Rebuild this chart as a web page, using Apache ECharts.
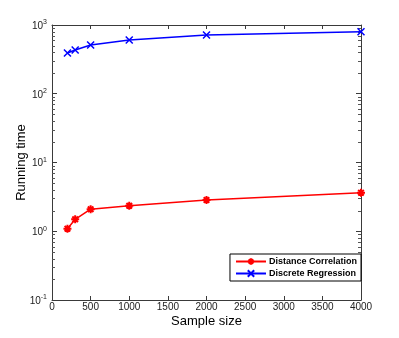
<!DOCTYPE html>
<html>
<head>
<meta charset="utf-8">
<script src="https://cdn.jsdelivr.net/npm/echarts@6/dist/echarts.min.js"></script>
<style>
  html, body { margin: 0; padding: 0; background: #fff; }
  #main { width: 399px; height: 338px; }
</style>
</head>
<body>
<div id="main"></div>
<script>
// 运行时间 vs 样本量
const sampleSizes = [200, 300, 500, 1000, 2000, 4000]
const distCorr = [1.09, 1.49, 2.09, 2.35, 2.85, 3.64]
const discReg = [392, 433, 512, 605, 716, 800]
const yMinor = [0.2, 0.3, 0.4, 0.5, 0.6, 0.7, 0.8, 0.9, 2, 3, 4, 5, 6, 7, 8, 9,
  20, 30, 40, 50, 60, 70, 80, 90, 200, 300, 400, 500, 600, 700, 800, 900]

const font = 'Liberation Sans, Arial, sans-serif'
const axisColor = '#3a3a3a'

const myChart = echarts.init(document.getElementById('main'))

const yLabel = {
  color: '#222',
  fontFamily: font,
  margin: 5,
  formatter: function (v) {
    const e = Math.round(Math.log10(v))
    return '{b|10}{s|' + e + '}'
  },
  rich: {
    b: { fontSize: 10, fontFamily: font, color: '#222', lineHeight: 12, verticalAlign: 'bottom' },
    s: { fontSize: 7, fontFamily: font, color: '#222', verticalAlign: 'top', lineHeight: 12, padding: [0, 0, 5, 0] }
  }
}

const option = {
  animation: false,
  backgroundColor: '#fff',
  grid: { left: 52, right: 38, top: 25, bottom: 38 },
  legend: {
    data: ['Distance Correlation', 'Discrete Regression'],
    orient: 'vertical',
    right: 38,
    bottom: 57,
    z: 10,
    backgroundColor: '#fff',
    borderColor: '#000',
    borderWidth: 1,
    borderRadius: 0,
    padding: [3, 4, 3, 5],
    itemGap: 3,
    itemWidth: 30,
    itemHeight: 8,
    textStyle: { fontSize: 9, fontWeight: 'bold', fontFamily: font, color: '#000', padding: [0, 0, 0, -2] }
  },
  xAxis: [{
    type: 'value',
    min: 0,
    max: 4000,
    interval: 500,
    name: 'Sample size',
    nameLocation: 'middle',
    nameGap: 15,
    nameMoveOverlap: false,
    nameTextStyle: { fontSize: 13, fontFamily: font, color: '#000' },
    axisLine: { onZero: false, lineStyle: { color: axisColor, width: 1 } },
    axisTick: { inside: true, length: 4, lineStyle: { color: axisColor } },
    axisLabel: { fontSize: 10, fontFamily: font, color: '#222', margin: 2, formatter: v => String(v) },
    splitLine: { show: false }
  }, {
    type: 'value',
    position: 'top',
    min: 0,
    max: 4000,
    interval: 500,
    axisLine: { onZero: false, lineStyle: { color: axisColor, width: 1 } },
    axisTick: { inside: true, length: 4, lineStyle: { color: axisColor } },
    axisLabel: { show: false },
    splitLine: { show: false }
  }],
  yAxis: [{
    type: 'log',
    logBase: 10,
    min: 0.1,
    max: 1000,
    name: 'Running time',
    nameLocation: 'middle',
    nameGap: 24,
    nameMoveOverlap: false,
    nameRotate: 90,
    nameTextStyle: { fontSize: 13, fontFamily: font, color: '#000' },
    axisLine: { onZero: false, lineStyle: { color: axisColor, width: 1 } },
    axisTick: { inside: true, length: 5, lineStyle: { color: axisColor } },
    axisLabel: yLabel,
    splitLine: { show: false }
  }, {
    type: 'log',
    logBase: 10,
    min: 0.1,
    max: 1000,
    position: 'right',
    axisLine: { onZero: false, lineStyle: { color: axisColor, width: 1 } },
    axisTick: { inside: true, length: 5, lineStyle: { color: axisColor } },
    axisLabel: { show: false },
    splitLine: { show: false }
  }],
  series: [{
    name: 'Distance Correlation',
    type: 'line',
    data: sampleSizes.map((x, i) => [x, distCorr[i]]),
    symbol: 'path://M5,0L5,10M0,5L10,5M1.5,1.5L8.5,8.5M8.5,1.5L1.5,8.5',
    symbolSize: 8,
    showAllSymbol: true,
    lineStyle: { color: '#ff0000', width: 1.5 },
    itemStyle: { color: '#ff0000', borderColor: '#ff0000', borderWidth: 2 },
    z: 3
  }, {
    name: 'Discrete Regression',
    type: 'line',
    data: sampleSizes.map((x, i) => [x, discReg[i]]),
    symbol: 'path://M0,0L10,10M10,0L0,10',
    symbolSize: 7,
    showAllSymbol: true,
    lineStyle: { color: '#0000ff', width: 1.5 },
    itemStyle: { color: '#0000ff', borderColor: '#0000ff', borderWidth: 1.5 },
    z: 3
  }, {
    // 对数轴次刻度
    type: 'custom',
    silent: true,
    clip: false,
    data: yMinor.map(v => [0, v]),
    encode: { x: 0, y: 1 },
    renderItem: function (params, api) {
      const pt = api.coord([api.value(0), api.value(1)])
      const y = Math.round(pt[1]) + 0.5
      const left = pt[0]
      const right = left + params.coordSys.width
      const style = { stroke: '#555', lineWidth: 1 }
      return {
        type: 'group',
        children: [
          { type: 'line', shape: { x1: left, y1: y, x2: left + 3, y2: y }, style: style },
          { type: 'line', shape: { x1: right - 3, y1: y, x2: right, y2: y }, style: style }
        ]
      }
    },
    z: 2
  }]
}

myChart.setOption(option)
</script>
</body>
</html>
